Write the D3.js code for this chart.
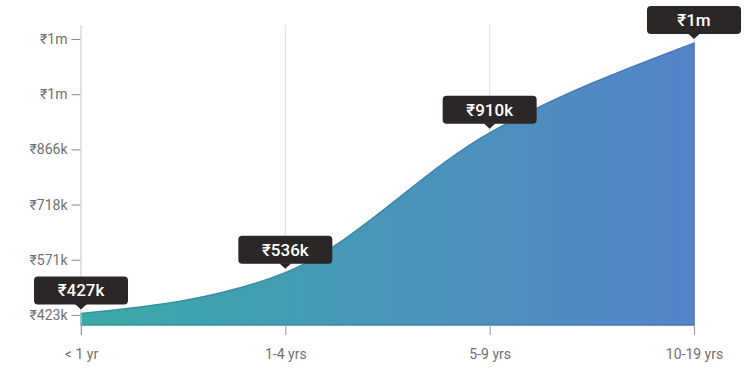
<!DOCTYPE html>
<meta charset="utf-8">
<script src="https://d3js.org/d3.v7.min.js"></script>
<style>
  body { margin: 0; background: #fff; }
  text { font-family: Roboto, "Noto Sans", sans-serif; }
</style>
<div id="chart"></div>
<script>
    // data (values in thousands of rupees)
    var categories = ["< 1 yr", "1-4 yrs", "5-9 yrs", "10-19 yrs"];
    var salaries = [427, 536, 910, 1150];
    var yTicks = [423, 570.6, 718.2, 865.8, 1013.4, 1161];

    var width = 753, height = 380;

    var svg = d3.select("#chart")
      .append("svg")
        .attr("width", width)
        .attr("height", height);

    function fmt(v) {
      return v < 1000 ? "₹" + Math.round(v) + "k" : "₹" + Math.round(v / 1000) + "m";
    }

    var x = d3.scalePoint()
      .domain(categories)
      .range([81, 694]);

    var y = d3.scaleLinear()
      .domain([396, 1161])
      .range([325, 39]);

    var data = categories.map(function(c, i) { return {cat: c, value: salaries[i]}; });

    // gradient for the area
    var defs = svg.append("defs");
    var grad = defs.append("linearGradient")
      .attr("id", "fillGrad")
      .attr("gradientUnits", "userSpaceOnUse")
      .attr("x1", x(categories[0])).attr("x2", x(categories[3]))
      .attr("y1", 0).attr("y2", 0);
    grad.append("stop").attr("offset", "0%").attr("stop-color", "#3ba9a8");
    grad.append("stop").attr("offset", "100%").attr("stop-color", "#5583c9");

    var gradLine = defs.append("linearGradient")
      .attr("id", "lineGrad")
      .attr("gradientUnits", "userSpaceOnUse")
      .attr("x1", x(categories[0])).attr("x2", x(categories[3]))
      .attr("y1", 0).attr("y2", 0);
    gradLine.append("stop").attr("offset", "0%").attr("stop-color", "#2e9898");
    gradLine.append("stop").attr("offset", "100%").attr("stop-color", "#4775bd");

    // vertical grid lines
    svg.append("g")
      .selectAll("line")
      .data(categories)
      .enter()
      .append("line")
        .attr("x1", function(d) { return x(d); })
        .attr("x2", function(d) { return x(d); })
        .attr("y1", 25)
        .attr("y2", 325)
        .style("stroke", "#e0e0e0")
        .style("stroke-width", 1);

    // area
    var area = d3.area()
      .x(function(d) { return x(d.cat); })
      .y0(y(396))
      .y1(function(d) { return y(d.value); })
      .curve(d3.curveMonotoneX);

    svg.append("path")
      .datum(data)
      .attr("d", area)
      .style("fill", "url(#fillGrad)")
      .style("stroke", "url(#lineGrad)")
      .style("stroke-width", 1.5);

    // y axis
    var yAxis = svg.append("g")
      .attr("transform", "translate(80.5,0)")
      .call(d3.axisLeft(y).tickValues(yTicks).tickFormat(fmt).tickSize(9).tickPadding(4));
    yAxis.select(".domain").remove();
    yAxis.selectAll(".tick line").style("stroke", "#888");
    yAxis.selectAll(".tick text")
      .style("font-size", "14px")
      .style("fill", "#707070");

    svg.append("line")
      .attr("x1", 81).attr("x2", 81)
      .attr("y1", 25).attr("y2", 335)
      .style("stroke", "#d6d6d6");

    // x axis
    var xAxis = svg.append("g")
      .attr("transform", "translate(0,325)")
      .call(d3.axisBottom(x).tickSize(10).tickPadding(14));
    xAxis.select(".domain").remove();
    xAxis.selectAll(".tick line").style("stroke", "#999");
    xAxis.selectAll(".tick text")
      .style("font-size", "14px")
      .style("fill", "#707070");

    // value labels
    var tips = svg.append("g")
      .selectAll("g")
      .data(data)
      .enter()
      .append("g")
        .attr("transform", function(d) {
          return "translate(" + x(d.cat) + "," + (y(d.value) - 4) + ")";
        });

    tips.append("rect")
      .attr("x", -47)
      .attr("y", -33)
      .attr("width", 94)
      .attr("height", 28)
      .attr("rx", 4)
      .style("fill", "#2b2727");

    tips.append("path")
      .attr("d", "M-6,-5.5L6,-5.5L0,0Z")
      .style("fill", "#2b2727");

    tips.append("text")
      .attr("x", 0)
      .attr("y", -13)
      .attr("text-anchor", "middle")
      .style("font-size", "17px")
      .style("font-weight", "500")
      .style("fill", "#fff")
      .text(function(d) { return fmt(d.value); });
</script>
